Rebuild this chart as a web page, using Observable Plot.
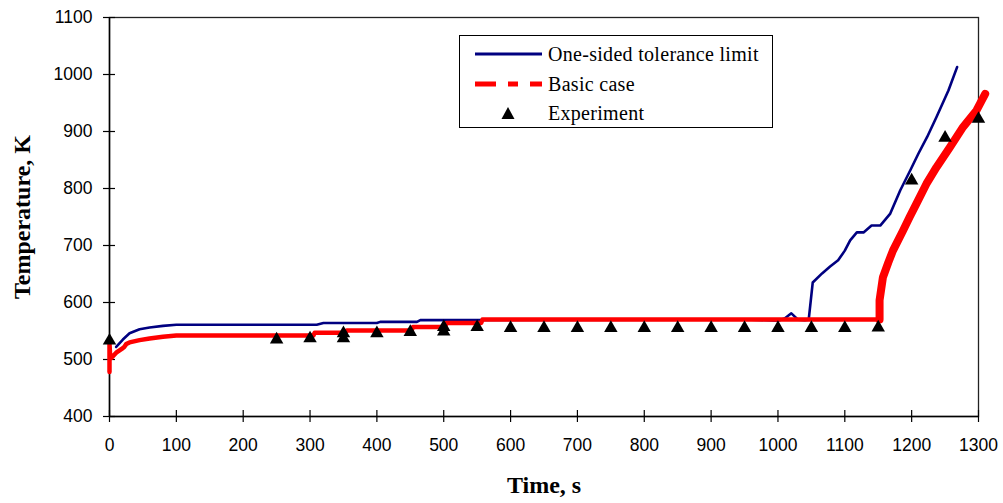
<!DOCTYPE html>
<html>
<head>
<meta charset="utf-8">
<script src="https://cdn.jsdelivr.net/npm/d3@7"></script>
<script src="https://cdn.jsdelivr.net/npm/@observablehq/plot@0.6"></script>
<style>
  html, body { margin: 0; padding: 0; background: #fff; }
  #wrap { position: relative; width: 1003px; height: 503px; }
  #legend { position: absolute; left: 459px; top: 35px; width: 312px; height: 91px;
    border: 1px solid #000; background: #fff; font-family: "Liberation Serif", serif; font-size: 20px; letter-spacing: 0.3px; color: #000; }
  .row { position: absolute; left: 0; height: 20px; display: flex; align-items: center; }
  .row svg { display: block; }
  .row span { margin-left: 3px; line-height: 20px; }
</style>
</head>
<body>
<div id="wrap"></div>
<script>
// ---- data ----
const xTicks = [0,100,200,300,400,500,600,700,800,900,1000,1100,1200,1300];
const yTicks = [400,500,600,700,800,900,1000,1100];

// One-sided tolerance limit
const tolTime = [10,20,30,45,60,80,100,310,320,400,405,460,465,900,960,1000,1010,1020,1030,1040,1046,1052,1066,1078,1090,1100,1108,1118,1128,1140,1153,1168,1183,1198,1210,1223,1237,1255,1268];
const tolTemp = [522,535,546,553,556,559,561,561,564,564,566,566,569,570,570,568,572,581,570,569,570,635,651,663,674,691,709,723,723,735,735,756,797,832,861,890,925,972,1013];

// Basic case (plateau part)
const baseTime = [0,0,1,3,10,20,22,25,30,45,60,80,100,305,307,353,355,452,454,502,504,556,558,1152];
const baseTemp = [478,528,505,503,512,520,522,527,530,534,537,540,542,542,547,547,551,551,557,557,564,564,570,570];
// Basic case (heat-up part)
const riseTime = [1152,1152,1157,1165,1172,1187,1197,1207,1222,1237,1257,1277,1297,1310];
const riseTemp = [570,604,644,670,691,726,750,773,808,837,872,908,937,966];

// Experiment
const expTime = [0,250,300,350,350,400,450,500,500,550,600,650,700,750,800,850,900,950,1000,1050,1100,1150,1200,1250,1300];
const expTemp = [533,535,537,546,537,546,548,557,549,557,555,555,555,555,555,555,555,555,555,555,555,556,814,889,922];

const zip = (xs, ys) => xs.map((x, i) => ({t: x, T: ys[i]}));
const tol = zip(tolTime, tolTemp);
const base = zip(baseTime, baseTemp);
const rise = zip(riseTime, riseTemp);
const exp = zip(expTime, expTemp);

const chart = Plot.plot({
  width: 1003,
  height: 503,
  marginLeft: 109,
  marginRight: 25,
  marginTop: 17,
  marginBottom: 87,
  style: {fontFamily: "Liberation Sans, Arial, sans-serif", fontSize: "17.5px", color: "#000", background: "#fff"},
  x: {domain: [0, 1300], ticks: xTicks},
  y: {domain: [400, 1100], ticks: yTicks},
  marks: [
    Plot.frame({stroke: "#222", strokeWidth: 1.3}),
    Plot.axisX({ticks: xTicks, tickSize: 6, tickPadding: 16, label: null, tickFormat: d => String(d), strokeWidth: 1.2}),
    Plot.axisX({ticks: xTicks, tickSize: -6, label: null, tickFormat: () => "", strokeWidth: 1.2}),
    Plot.axisY({ticks: yTicks, tickSize: 6, tickPadding: 11, label: null, tickFormat: d => String(d), strokeWidth: 1.2}),
    Plot.axisY({ticks: yTicks, tickSize: -6, label: null, tickFormat: () => "", strokeWidth: 1.2}),
    Plot.ruleX([0], {stroke: "#000", strokeWidth: 1.5}),
    Plot.ruleY([400], {stroke: "#000", strokeWidth: 1.5}),
    Plot.line(tol, {x: "t", y: "T", stroke: "#000080", strokeWidth: 2.6}),
    Plot.line(base, {x: "t", y: "T", stroke: "#ff0000", strokeWidth: 4.5}),
    Plot.line(rise, {x: "t", y: "T", stroke: "#ff0000", strokeWidth: 8}),
    Plot.dot(exp, {x: "t", y: "T", symbol: "triangle", r: 5, fill: "#000", stroke: "none"}),
    Plot.text(["Time, s"], {frameAnchor: "bottom", dy: 76, fontFamily: "Liberation Serif, serif", fontWeight: "bold", fontSize: 24}),
    Plot.text(["Temperature, K"], {frameAnchor: "left", textAnchor: "middle", lineAnchor: "middle", dx: -87, rotate: -90, fontFamily: "Liberation Serif, serif", fontWeight: "bold", fontSize: 24, letterSpacing: "0.4px"})
  ]
});
const wrap = document.getElementById("wrap");
wrap.appendChild(chart);

// ---- legend ----
const legendItems = [
  {label: "One-sided tolerance limit", kind: "line"},
  {label: "Basic case", kind: "dash"},
  {label: "Experiment", kind: "tri"}
];
const legend = document.createElement("div");
legend.id = "legend";
legendItems.forEach((it, i) => {
  const row = document.createElement("div");
  row.className = "row";
  row.style.top = (8 + i * 29.5) + "px";
  row.style.left = "15px";
  let sw = "";
  if (it.kind === "line") sw = '<line x1="0" x2="67" y1="10" y2="10" stroke="#000080" stroke-width="3"/>';
  if (it.kind === "dash") sw = '<line x1="0" x2="67" y1="10" y2="10" stroke="#ff0000" stroke-width="5" stroke-dasharray="21 12 10 12 14"/>';
  if (it.kind === "tri") sw = '<path d="M33,4 L39.5,16 L26.5,16 Z" fill="#000"/>';
  row.innerHTML = '<svg width="70" height="20">' + sw + '</svg><span>' + it.label + '</span>';
  legend.appendChild(row);
});
wrap.appendChild(legend);
</script>
</body>
</html>
